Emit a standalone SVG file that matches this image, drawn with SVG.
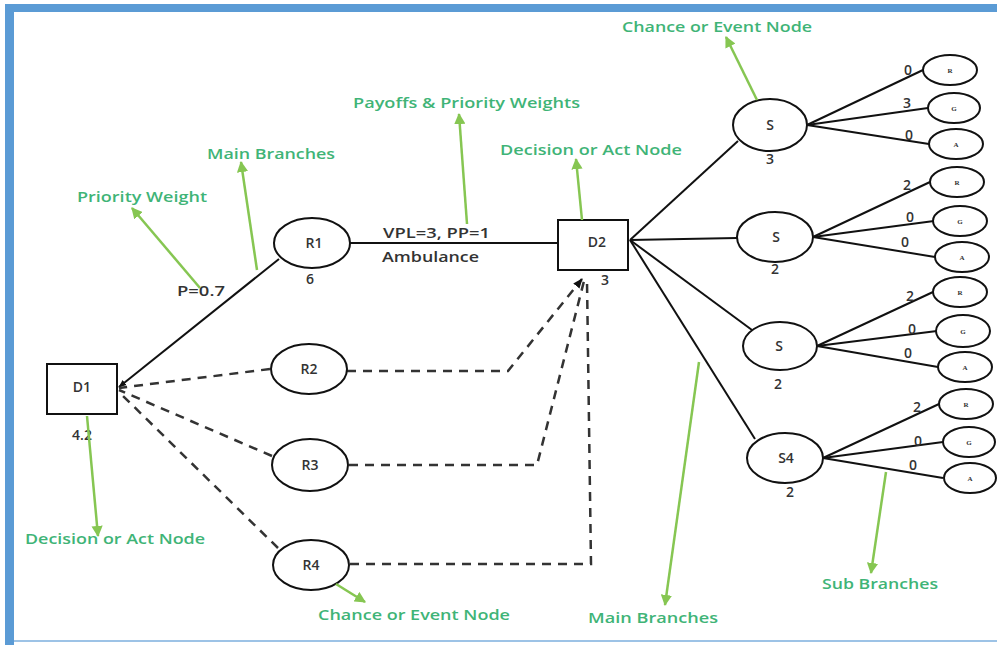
<svg xmlns="http://www.w3.org/2000/svg" width="997" height="645" viewBox="0 0 997 645">
<defs>
<marker id="ga" viewBox="0 0 10 10" refX="9" refY="5" markerWidth="4.5" markerHeight="4.5" orient="auto" markerUnits="strokeWidth">
<path d="M0,0 L10,5 L0,10 z" fill="#86c652"/>
</marker>
<marker id="ba" viewBox="0 0 10 10" refX="9" refY="5" markerWidth="4" markerHeight="4" orient="auto" markerUnits="strokeWidth">
<path d="M0,1 L10,5 L0,9 z" fill="#111"/>
</marker>
</defs>
<style>
.node{fill:#fff;stroke:#111;stroke-width:2}
.lbl{font-family:"Open Sans","Liberation Sans",sans-serif;font-size:14px;font-weight:600;fill:#333}
.tiny{font-family:"Liberation Serif",serif;font-size:7px;font-weight:bold;fill:#333;text-anchor:middle}
.num{font-family:"Open Sans","Liberation Sans",sans-serif;font-size:14px;font-weight:600;fill:#333;text-anchor:middle}
.ann{font-family:"Open Sans","Liberation Sans",sans-serif;font-size:15px;font-weight:600;fill:#3fb477}
.solid{stroke:#111;stroke-width:2;fill:none}
.dash{stroke:#333;stroke-width:2.5;fill:none;stroke-dasharray:9,7}
.garr{stroke:#86c652;stroke-width:2.5;fill:none}
</style>
<rect x="0" y="0" width="997" height="645" fill="#fff"/>
<!-- frame -->
<rect x="5" y="4" width="992" height="8" fill="#5b9bd5"/>
<rect x="5" y="4" width="9" height="641" fill="#5b9bd5"/>
<rect x="14" y="640" width="983" height="2" fill="#9dc3e6"/>

<g id="connectors">
<line class="solid" x1="279" y1="259" x2="119" y2="387" marker-end="url(#ba)"/>
<line class="dash" x1="270" y1="369" x2="119" y2="388"/>
<line class="dash" x1="272" y1="456" x2="119" y2="390"/>
<line class="dash" x1="278" y1="548" x2="119" y2="392"/>
<line class="solid" x1="350" y1="243" x2="558" y2="243"/>
<polyline class="dash" points="347,371 508,371 582,279" marker-end="url(#ba)"/>
<polyline class="dash" points="349,465 537,465 584,281"/>
<polyline class="dash" points="350,564 591,564 587,281"/>
<line class="solid" x1="630" y1="240" x2="738" y2="141"/>
<line class="solid" x1="630" y1="240" x2="737" y2="238"/>
<line class="solid" x1="630" y1="240" x2="752" y2="330"/>
<line class="solid" x1="630" y1="240" x2="755" y2="439"/>
<line class="solid" x1="807" y1="125" x2="923" y2="70"/>
<line class="solid" x1="807" y1="125" x2="928" y2="108"/>
<line class="solid" x1="807" y1="125" x2="929" y2="144"/>
<line class="solid" x1="813" y1="237" x2="930" y2="182"/>
<line class="solid" x1="813" y1="237" x2="934" y2="221"/>
<line class="solid" x1="813" y1="237" x2="935" y2="257"/>
<line class="solid" x1="817" y1="346" x2="933" y2="292"/>
<line class="solid" x1="817" y1="346" x2="937" y2="331"/>
<line class="solid" x1="817" y1="346" x2="938" y2="367"/>
<line class="solid" x1="823" y1="458" x2="939" y2="404"/>
<line class="solid" x1="823" y1="458" x2="943" y2="442"/>
<line class="solid" x1="823" y1="458" x2="943" y2="478"/>
</g>

<g id="edge-labels">
<text class="lbl" x="383" y="238" textLength="107" lengthAdjust="spacingAndGlyphs">VPL=3, PP=1</text>
<text class="lbl" x="382" y="262" textLength="97" lengthAdjust="spacingAndGlyphs">Ambulance</text>
<text class="lbl" x="177" y="296" textLength="48" lengthAdjust="spacingAndGlyphs">P=0.7</text>
<text class="num" x="908" y="75">0</text>
<text class="num" x="907" y="108">3</text>
<text class="num" x="909" y="140">0</text>
<text class="num" x="907" y="190">2</text>
<text class="num" x="910" y="222">0</text>
<text class="num" x="905" y="247">0</text>
<text class="num" x="910" y="301">2</text>
<text class="num" x="912" y="334">0</text>
<text class="num" x="908" y="358">0</text>
<text class="num" x="917" y="412">2</text>
<text class="num" x="918" y="446">0</text>
<text class="num" x="913" y="470">0</text>
</g>

<g id="D1"><rect class="node" x="47" y="364" width="70" height="50"/><text class="num" x="82" y="392">D1</text><text class="num" x="82" y="440">4.2</text></g>
<g id="D2"><rect class="node" x="558" y="220" width="70" height="50"/><text class="num" x="597" y="247">D2</text><text class="num" x="605" y="285">3</text></g>
<g id="R1"><ellipse class="node" cx="312" cy="243" rx="38" ry="25"/><text class="num" x="314" y="248">R1</text><text class="num" x="310" y="284">6</text></g>
<g id="R2"><ellipse class="node" cx="309" cy="369" rx="38" ry="25"/><text class="num" x="309" y="374">R2</text></g>
<g id="R3"><ellipse class="node" cx="310" cy="465" rx="38" ry="26"/><text class="num" x="310" y="470">R3</text></g>
<g id="R4"><ellipse class="node" cx="311" cy="565" rx="38" ry="25"/><text class="num" x="311" y="570">R4</text></g>

<g id="S1"><ellipse class="node" cx="770" cy="125" rx="37" ry="26"/><text class="num" x="770" y="130">S</text><text class="num" x="770" y="164">3</text></g>
<g id="S2"><ellipse class="node" cx="775" cy="237" rx="38" ry="25"/><text class="num" x="776" y="242">S</text><text class="num" x="775" y="274">2</text></g>
<g id="S3"><ellipse class="node" cx="780" cy="346" rx="37" ry="24"/><text class="num" x="779" y="351">S</text><text class="num" x="778" y="389">2</text></g>
<g id="S4"><ellipse class="node" cx="785" cy="458" rx="38" ry="25"/><text class="num" x="786" y="463">S4</text><text class="num" x="790" y="497">2</text></g>

<g id="S1-R"><ellipse class="node" cx="950" cy="70" rx="27" ry="15"/><text class="tiny" x="950" y="73">R</text></g>
<g id="S1-G"><ellipse class="node" cx="954" cy="108" rx="26" ry="15"/><text class="tiny" x="954" y="111">G</text></g>
<g id="S1-A"><ellipse class="node" cx="956" cy="144" rx="27" ry="15"/><text class="tiny" x="956" y="147">A</text></g>
<g id="S2-R"><ellipse class="node" cx="957" cy="182" rx="27" ry="15"/><text class="tiny" x="957" y="185">R</text></g>
<g id="S2-G"><ellipse class="node" cx="960" cy="221" rx="27" ry="15"/><text class="tiny" x="960" y="224">G</text></g>
<g id="S2-A"><ellipse class="node" cx="962" cy="257" rx="27" ry="15"/><text class="tiny" x="962" y="260">A</text></g>
<g id="S3-R"><ellipse class="node" cx="960" cy="292" rx="27" ry="15"/><text class="tiny" x="960" y="295">R</text></g>
<g id="S3-G"><ellipse class="node" cx="963" cy="331" rx="27" ry="16"/><text class="tiny" x="963" y="334">G</text></g>
<g id="S3-A"><ellipse class="node" cx="965" cy="367" rx="27" ry="15"/><text class="tiny" x="965" y="370">A</text></g>
<g id="S4-R"><ellipse class="node" cx="966" cy="404" rx="27" ry="15"/><text class="tiny" x="966" y="407">R</text></g>
<g id="S4-G"><ellipse class="node" cx="969" cy="442" rx="26" ry="15"/><text class="tiny" x="969" y="445">G</text></g>
<g id="S4-A"><ellipse class="node" cx="970" cy="478" rx="26" ry="15"/><text class="tiny" x="970" y="481">A</text></g>

<g id="annotations">
<line class="garr" x1="757" y1="100" x2="726" y2="37" marker-end="url(#ga)"/>
<text class="ann" x="622" y="32" textLength="190" lengthAdjust="spacingAndGlyphs">Chance or Event Node</text>
<line class="garr" x1="467" y1="224" x2="459" y2="114" marker-end="url(#ga)"/>
<text class="ann" x="353" y="108" textLength="227" lengthAdjust="spacingAndGlyphs">Payoffs &amp; Priority Weights</text>
<line class="garr" x1="582" y1="220" x2="576" y2="159" marker-end="url(#ga)"/>
<text class="ann" x="500" y="155" textLength="182" lengthAdjust="spacingAndGlyphs">Decision or Act Node</text>
<line class="garr" x1="257" y1="270" x2="241" y2="162" marker-end="url(#ga)"/>
<text class="ann" x="207" y="159" textLength="128" lengthAdjust="spacingAndGlyphs">Main Branches</text>
<line class="garr" x1="200" y1="288" x2="132" y2="208" marker-end="url(#ga)"/>
<text class="ann" x="77" y="202" textLength="130" lengthAdjust="spacingAndGlyphs">Priority Weight</text>
<line class="garr" x1="87" y1="416" x2="98" y2="536" marker-end="url(#ga)"/>
<text class="ann" x="25" y="544" textLength="180" lengthAdjust="spacingAndGlyphs">Decision or Act Node</text>
<line class="garr" x1="336" y1="584" x2="365" y2="602" marker-end="url(#ga)"/>
<text class="ann" x="318" y="620" textLength="192" lengthAdjust="spacingAndGlyphs">Chance or Event Node</text>
<line class="garr" x1="699" y1="362" x2="665" y2="605" marker-end="url(#ga)"/>
<text class="ann" x="588" y="623" textLength="130" lengthAdjust="spacingAndGlyphs">Main Branches</text>
<line class="garr" x1="886" y1="472" x2="871" y2="573" marker-end="url(#ga)"/>
<text class="ann" x="822" y="589" textLength="116" lengthAdjust="spacingAndGlyphs">Sub Branches</text>
</g>
</svg>
